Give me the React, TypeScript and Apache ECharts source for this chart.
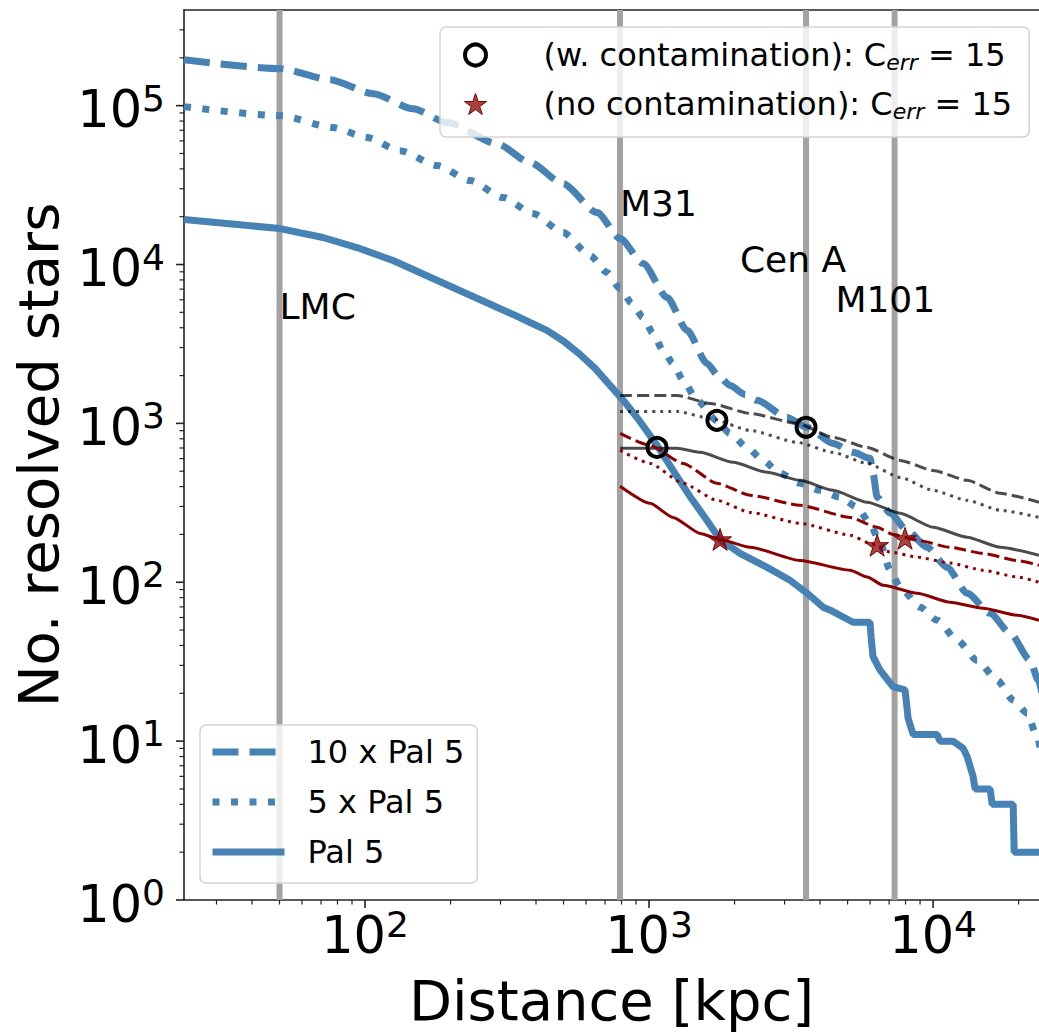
import React, { useEffect, useRef } from 'react';
import * as echarts from 'echarts';

const FONT = '"DejaVu Sans", "Liberation Sans", sans-serif';

// axis limits
const X_MIN = 23.05;
const X_MAX = 23600;
const Y_MIN = 1;
const Y_MAX = 4e5;

// tick values
const xMajorTicks = [100, 1000, 10000];
const xMinorTicks = [30, 40, 50, 60, 70, 80, 90, 200, 300, 400, 500, 600, 700, 800, 900, 2000, 3000, 4000, 5000, 6000, 7000, 8000, 9000, 20000];
const yMajorTicks = [1, 10, 100, 1000, 10000, 100000];
const yMinorTicks = [2, 3, 4, 5, 6, 7, 8, 9, 20, 30, 40, 50, 60, 70, 80, 90, 200, 300, 400, 500, 600, 700, 800, 900, 2000, 3000, 4000, 5000, 6000, 7000, 8000, 9000, 20000, 30000, 40000, 50000, 60000, 70000, 80000, 90000, 200000, 300000];

// galaxy distances (kpc) and labels
const galaxyDistances = [50, 790, 3570, 7320];
const annotationNames = ['LMC', 'M31', 'Cen A', 'M101'];
const annotationX = [50, 790, 2090, 4530];
const annotationY = [5445, 24200, 10830, 6025];

// Blue curves: number of resolved stars vs distance
const pal5x10: number[][] = [
  [23.05, 194600], [50.2, 171000], [75.3, 145800], [106.7, 118900], [147.5, 95700], [194.5, 78200],
  [291.6, 57600], [381, 43850], [498, 32300], [656, 21230], [791, 14590], [953, 10140], [1157, 6195],
  [1361, 3846], [1600, 2384], [1750, 2004], [1928, 1734], [2177, 1521], [2399, 1396], [3062, 1091],
  [3600, 944], [4443, 748], [5225, 657], [5997, 603], [6147, 485], [6353, 343], [7063, 272], [8100, 212],
  [9520, 166], [11200, 124], [13180, 85.3], [15880, 63.8], [18670, 47.8], [21970, 32.3], [23450, 24.2], [24500, 18],
];
const pal5x5: number[][] = [
  [23.05, 98600], [50.2, 86500], [77.2, 72750], [101.6, 62950], [132.7, 52100], [179.3, 41950],
  [234.4, 33740], [306.3, 26380], [390.6, 20930], [498, 15890], [619.6, 11400], [711, 8910], [791, 7063],
  [871, 5686], [953, 4643], [1033, 3680], [1120, 2877], [1215, 2384], [1318, 1864], [1476, 1396],
  [1733, 1040], [1928, 865], [2213, 706], [2519, 585], [2892, 485], [3402, 420], [4000, 379], [4707, 343],
  [5400, 297], [5997, 235], [6505, 176], [7063, 119], [7656, 93], [8999, 69.7], [10330, 57.7],
  [12150, 43.2], [14290, 32.3], [16800, 24.2], [19140, 18.1], [21440, 15.0], [23240, 10.6], [24500, 7],
];
const pal5: number[][] = [
  [23.05, 19190], [50.2, 16840], [71.1, 14790], [93.7, 12790], [125.5, 10590], [173.5, 8160], [240, 6295],
  [332, 4850], [381, 4316], [437, 3850], [502, 3279], [571.6, 2716], [645.5, 2218], [729, 1734],
  [823, 1356], [929, 1029], [1067, 727], [1215, 506], [1393, 347], [1600, 245], [1778, 186], [2090, 152],
  [2604, 124], [3134, 103], [3600, 85.3], [4100, 69.7], [4345, 66.7], [5225, 56], [5997, 56], [6050, 45],
  [6147, 34], [6505, 28], [7228, 22], [7965, 21], [8100, 16], [8163, 14], [8508, 11], [10330, 11],
  [10580, 10], [11750, 10], [12760, 9], [13180, 8], [13830, 6], [14060, 5], [15880, 5], [16140, 4],
  [19140, 4], [19300, 2], [23600, 2],
];

// with contamination (dark grey)
const contamDashed: number[][] = [
  [791, 1500], [1255, 1500], [1641, 1336], [2270, 1156], [3321, 1000], [4443, 817], [5860, 706],
  [7656, 585], [10000, 506], [13180, 438], [17220, 363], [23600, 319],
];
const contamDotted: number[][] = [
  [791, 1189], [1255, 1189], [1641, 1075], [2270, 903], [3321, 760], [4443, 657], [5860, 560],
  [7656, 457], [10000, 379], [13180, 328], [17220, 284], [23600, 256],
];
const contamSolid: number[][] = [
  [791, 697], [1255, 697], [1514, 657], [1976, 569], [2604, 492], [3402, 438], [4443, 379], [5860, 319],
  [7656, 272], [10000, 222], [13180, 192], [17220, 166], [23600, 148],
];

// no contamination (dark red)
const cleanDashed: number[][] = [
  [791, 865], [1008, 727], [1318, 560], [1733, 420], [2270, 353], [3402, 305], [5105, 256], [6353, 222],
  [7228, 200], [8790, 184], [11480, 166], [15000, 152], [19750, 137], [23600, 128],
];
const cleanDotted: number[][] = [
  [791, 676], [1008, 560], [1318, 420], [1733, 328], [2270, 275], [3402, 235], [5105, 198], [5997, 176],
  [7063, 155], [8790, 144], [11480, 132], [15000, 119], [19750, 108], [23600, 100],
];
const cleanSolid: number[][] = [
  [791, 402], [1008, 314], [1215, 256], [1514, 203], [1778, 186], [2270, 166], [3402, 137], [5105, 119],
  [5860, 108], [6677, 95.7], [8790, 85.3], [11480, 74.8], [15000, 68.6], [19750, 62], [23600, 57.7],
];

// markers
const circlePoints: number[][] = [[1067, 706], [1733, 1045], [3571, 945]];
const starPoints: number[][] = [[1778, 186], [6353, 171], [7965, 189]];

const W_NAME = '(w. contamination): C_err = 15';
const N_NAME = '(no contamination): C_err = 15';

const BLUE = '#4682b4';
const DARK = 'rgba(0,0,0,0.7)';
const RED = '#8b0000';
const STAR = 'path://M100,0L122.45,69.1L195.11,69.1L136.33,111.8L158.78,180.9L100,138.2L41.22,180.9L63.67,111.8L4.89,69.1L77.55,69.1Z';

const RICH = {
  b: { fontSize: 51, lineHeight: 51, fontFamily: FONT, color: '#000', padding: [8, 0, 0, 0] },
  s: { fontSize: 36, lineHeight: 36, fontFamily: FONT, color: '#000', verticalAlign: 'top' },
};

function powLabel(v: number) {
  const e = Math.log10(v);
  const r = Math.round(e);
  if (Math.abs(e - r) > 1e-6) return '';
  return '{b|10}{s|' + r + '}';
}

function lineSeries(name: string, data: number[][], color: string, width: number, type: any, z: number, smooth: any) {
  return {
    type: 'line', name, data, symbol: 'none', showSymbol: false, smooth, smoothMonotone: 'x',
    lineStyle: { color, width, type, cap: 'butt' }, itemStyle: { color }, z, silent: true,
  };
}

const tickData = [
  ...xMajorTicks.map((v) => [v, Y_MIN, 0]),
  ...xMinorTicks.map((v) => [v, Y_MIN, 1]),
  ...yMajorTicks.map((v) => [X_MIN, v, 2]),
  ...yMinorTicks.map((v) => [X_MIN, v, 3]),
];

const axisLineStyle = { color: '#222', width: 1.6 };

function buildOption() {
  return {
    animation: false,
    backgroundColor: '#fff',
    grid: { left: 184, right: 0, top: 10, bottom: 132, containLabel: false, outerBoundsMode: 'none' },
    xAxis: [
      {
        type: 'log', logBase: 10, min: X_MIN, max: X_MAX, position: 'bottom',
        axisLine: { show: true, onZero: false, lineStyle: axisLineStyle },
        axisTick: { show: false }, minorTick: { show: false }, splitLine: { show: false },
        axisLabel: { margin: 6, formatter: powLabel, rich: RICH, color: '#000' },
        name: 'Distance [kpc]', nameLocation: 'middle', nameGap: 72,
        nameTextStyle: { fontSize: 56, fontFamily: FONT, color: '#000' },
      },
      {
        type: 'log', logBase: 10, min: X_MIN, max: X_MAX, position: 'top',
        axisLine: { show: true, onZero: false, lineStyle: axisLineStyle },
        axisTick: { show: false }, axisLabel: { show: false }, splitLine: { show: false },
      },
    ],
    yAxis: {
      type: 'log', logBase: 10, min: Y_MIN, max: Y_MAX,
      axisLine: { show: true, onZero: false, lineStyle: axisLineStyle },
      axisTick: { show: false }, minorTick: { show: false }, splitLine: { show: false },
      axisLabel: { margin: 19, formatter: powLabel, rich: RICH, color: '#000' },
      name: 'No. resolved stars', nameLocation: 'middle', nameGap: 115,
      nameTextStyle: { fontSize: 56, fontFamily: FONT, color: '#000' },
    },
    legend: [
      {
        orient: 'vertical', left: 200, top: 725, selectedMode: false,
        data: ['10 x Pal 5', '5 x Pal 5', 'Pal 5'],
        itemWidth: 72, itemHeight: 20, itemGap: 10,
        padding: [7, 13, 11, 9],
        backgroundColor: 'rgba(255,255,255,0.8)', borderColor: '#d3d3d3', borderWidth: 1.5, borderRadius: 6,
        textStyle: { fontSize: 32, fontFamily: FONT, color: '#000', lineHeight: 40, padding: [0, 0, 0, 18] },
        lineStyle: { width: 7 }, itemStyle: { opacity: 0 }, z: 20,
      },
      {
        orient: 'vertical', left: 440, top: 27, selectedMode: false,
        data: [{ name: W_NAME, itemStyle: { borderWidth: 4 } }, { name: N_NAME, itemStyle: { borderWidth: 1 } }],
        itemWidth: 40, itemHeight: 21, itemGap: 13,
        padding: [10, 17, 15, 23],
        backgroundColor: 'rgba(255,255,255,0.8)', borderColor: '#d3d3d3', borderWidth: 1.5, borderRadius: 6,
        formatter: (name: string) =>
          name === W_NAME
            ? '{t|(w. contamination): C}{s|err}{t| = 15}'
            : '{t|(no contamination): C}{s|err}{t| = 15}',
        textStyle: {
          fontSize: 32, fontFamily: FONT, color: '#000', lineHeight: 36, padding: [0, 0, 0, 43],
          rich: {
            t: { fontSize: 32, lineHeight: 36, fontFamily: FONT, color: '#000' },
            s: { fontSize: 22, lineHeight: 24, fontFamily: FONT, fontStyle: 'italic', color: '#000', verticalAlign: 'bottom' },
          },
        },
        z: 20,
      },
    ],
    series: [
      {
        type: 'custom', name: 'galaxies', silent: true, z: 1, clip: false,
        data: galaxyDistances.map((d) => [d, Y_MIN]),
        renderItem: (params: any, api: any) => {
          const d = api.value(0);
          const top = api.coord([d, Y_MAX]);
          const bot = api.coord([d, Y_MIN]);
          return {
            type: 'line',
            shape: { x1: top[0], y1: top[1], x2: bot[0], y2: bot[1] },
            style: { stroke: '#a3a3a3', lineWidth: 6 },
          };
        },
      },
      lineSeries('contamDashed', contamDashed, DARK, 3, [12, 5], 3, 0.2),
      lineSeries('contamDotted', contamDotted, DARK, 3, [3, 5], 3, 0.2),
      lineSeries('contamSolid', contamSolid, DARK, 3, 'solid', 3, 0.2),
      lineSeries('cleanDashed', cleanDashed, RED, 3, [12, 5], 3, 0.2),
      lineSeries('cleanDotted', cleanDotted, RED, 3, [3, 5], 3, 0.2),
      lineSeries('cleanSolid', cleanSolid, RED, 3, 'solid', 3, 0.2),
      lineSeries('10 x Pal 5', pal5x10, BLUE, 7, [26, 11], 2, 0.25),
      lineSeries('5 x Pal 5', pal5x5, BLUE, 7, [7, 11.5], 2, 0.25),
      lineSeries('Pal 5', pal5, BLUE, 7, 'solid', 2, false),
      {
        type: 'scatter', name: W_NAME, data: circlePoints, symbol: 'circle', symbolSize: 19, z: 6, silent: true,
        itemStyle: { color: 'rgba(0,0,0,0)', borderColor: '#000', borderWidth: 4, opacity: 1 },
      },
      {
        type: 'scatter', name: N_NAME, data: starPoints, symbol: STAR, symbolSize: 23, symbolKeepAspect: true, z: 6, silent: true,
        itemStyle: { color: 'rgba(139,0,0,0.75)', borderColor: '#7a0000', borderWidth: 1, opacity: 1 },
      },
      {
        type: 'custom', name: 'ticks', silent: true, clip: false, z: 10,
        data: tickData,
        renderItem: (params: any, api: any) => {
          const p = api.coord([api.value(0), api.value(1)]);
          const kind = api.value(2);
          const major = kind % 2 === 0;
          const len = major ? 8 : 4.5;
          const shape = kind < 2
            ? { x1: p[0], y1: p[1], x2: p[0], y2: p[1] + len }
            : { x1: p[0] - len, y1: p[1], x2: p[0], y2: p[1] };
          return { type: 'line', shape, style: { stroke: '#222', lineWidth: major ? 1.6 : 1.2 } };
        },
      },
      {
        type: 'custom', name: 'labels', silent: true, clip: false, z: 7,
        data: annotationX.map((x, i) => [x, annotationY[i], i]),
        renderItem: (params: any, api: any) => {
          const p = api.coord([api.value(0), api.value(1)]);
          return {
            type: 'text', x: p[0], y: p[1],
            style: {
              text: annotationNames[params.dataIndex], fill: '#000', fontSize: 36, fontFamily: FONT,
              align: 'left', verticalAlign: 'middle',
            },
          };
        },
      },
    ],
  };
}

export default function App() {
  const ref = useRef<HTMLDivElement>(null);
  useEffect(() => {
    if (!ref.current) return;
    const chart = echarts.init(ref.current, null, { renderer: 'svg' });
    chart.setOption(buildOption() as any);
    return () => chart.dispose();
  }, []);
  return (
    <div style={{ position: 'fixed', left: 0, top: 0, width: 1039, height: 1032, background: '#fff', overflow: 'hidden' }}>
      <div ref={ref} style={{ width: 1039, height: 1032 }} />
    </div>
  );
}
